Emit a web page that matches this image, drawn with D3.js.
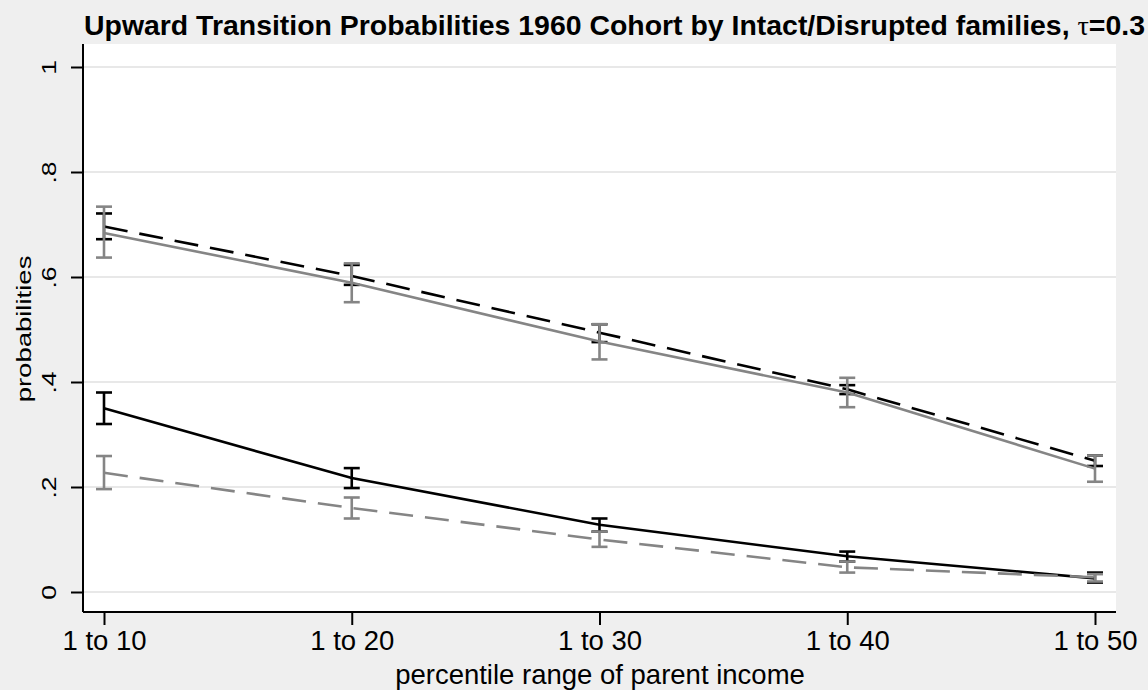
<!DOCTYPE html>
<html>
<head>
<meta charset="utf-8">
<script src="https://cdn.jsdelivr.net/npm/d3@7"></script>
<style>
  html, body { margin: 0; padding: 0; background: #efefef; }
  svg { display: block; }
  text { font-family: "Liberation Sans", Arial, Helvetica, sans-serif; fill: #000; }
</style>
</head>
<body>
<svg id="chart" width="1148" height="690"></svg>
<script>
// Percentile ranges of parent income (x categories)
const categories = ["1 to 10", "1 to 20", "1 to 30", "1 to 40", "1 to 50"];
const yTicks = [0, 0.2, 0.4, 0.6, 0.8, 1];
const yTickLabels = ["0", ".2", ".4", ".6", ".8", "1"];

// Upper series: black dashed and grey solid
const blackDashed = [0.696, 0.602, 0.494, 0.386, 0.250];
const blackDashedLo = [0.672, 0.585, 0.476, 0.377, 0.240];
const blackDashedHi = [0.721, 0.623, 0.510, 0.394, 0.260];

const greySolid = [0.684, 0.589, 0.477, 0.380, 0.235];
const greySolidLo = [0.637, 0.552, 0.443, 0.352, 0.210];
const greySolidHi = [0.734, 0.626, 0.510, 0.408, 0.260];

// Lower series: black solid and grey dashed
const blackSolid = [0.350, 0.217, 0.128, 0.068, 0.026];
const blackSolidLo = [0.320, 0.198, 0.115, 0.058, 0.018];
const blackSolidHi = [0.380, 0.236, 0.140, 0.077, 0.037];

const greyDashed = [0.227, 0.160, 0.100, 0.047, 0.028];
const greyDashedLo = [0.196, 0.140, 0.086, 0.037, 0.020];
const greyDashedHi = [0.259, 0.180, 0.115, 0.058, 0.034];

const GREY = "#858585";

const series = [
  { v: blackDashed, lo: blackDashedLo, hi: blackDashedHi, color: "#000", dash: "24,12" },
  { v: blackSolid, lo: blackSolidLo, hi: blackSolidHi, color: "#000", dash: null },
  { v: greySolid, lo: greySolidLo, hi: greySolidHi, color: GREY, dash: null },
  { v: greyDashed, lo: greyDashedLo, hi: greyDashedHi, color: GREY, dash: "24,12" }
];

const svg = d3.select("#chart");
const plot = { left: 83, right: 1116, top: 44, bottom: 612 };
const FONT = 27.5;

const x = d3.scalePoint().domain(categories).range([104, 1095]);
const y = d3.scaleLinear().domain([0, 1]).range([592, 67]);

// Plot region
svg.append("rect")
  .attr("x", plot.left).attr("y", plot.top)
  .attr("width", plot.right - plot.left).attr("height", plot.bottom - plot.top)
  .attr("fill", "#fff");

// Horizontal grid lines
svg.append("g").selectAll("line").data(yTicks).join("line")
  .attr("x1", plot.left).attr("x2", plot.right)
  .attr("y1", d => y(d)).attr("y2", d => y(d))
  .attr("stroke", "#e8e8e8").attr("stroke-width", 2);

// Y axis
const yAxis = svg.append("g")
  .attr("transform", `translate(${plot.left},0)`)
  .call(d3.axisLeft(y).tickValues(yTicks).tickFormat((d, i) => yTickLabels[i]).tickSize(12).tickPadding(14));
yAxis.select(".domain").remove();
yAxis.append("line")
  .attr("x1", 0).attr("x2", 0).attr("y1", plot.top).attr("y2", plot.bottom)
  .attr("stroke", "#000").attr("stroke-width", 2);
yAxis.selectAll(".tick line").attr("stroke", "#000").attr("stroke-width", 2);
yAxis.selectAll(".tick text")
  .attr("font-size", 26.5)
  .attr("font-family", "Liberation Sans, Arial, sans-serif")
  .attr("fill", "#000")
  .attr("text-anchor", "middle")
  .attr("dy", null)
  .attr("x", null)
  .attr("transform", "translate(-34,0) rotate(-90) scale(1,0.76)")
  .attr("dominant-baseline", "central");

// X axis
const xAxis = svg.append("g")
  .attr("transform", `translate(0,${plot.bottom})`)
  .call(d3.axisBottom(x).tickSize(13).tickPadding(5));
xAxis.select(".domain").remove();
xAxis.append("line")
  .attr("x1", plot.left).attr("x2", plot.right).attr("y1", 0).attr("y2", 0)
  .attr("stroke", "#000").attr("stroke-width", 2);
xAxis.selectAll(".tick line").attr("stroke", "#000").attr("stroke-width", 2);
xAxis.selectAll(".tick text")
  .attr("font-size", FONT)
  .attr("font-family", "Liberation Sans, Arial, sans-serif")
  .attr("fill", "#000");

// Axis titles
svg.append("text")
  .attr("x", 600).attr("y", 684)
  .attr("text-anchor", "middle").attr("font-size", FONT)
  .text("percentile range of parent income");
svg.append("text")
  .attr("transform", "translate(24,329) rotate(-90) scale(1,0.74)")
  .attr("text-anchor", "middle").attr("font-size", FONT)
  .attr("dominant-baseline", "central")
  .text("probabilities");

// Title
const title = svg.append("text")
  .attr("x", 84).attr("y", 35)
  .attr("text-anchor", "start").attr("font-size", 27).attr("font-weight", "bold")
  .attr("textLength", 1061).attr("lengthAdjust", "spacingAndGlyphs");
title.append("tspan").text("Upward Transition Probabilities 1960 Cohort by Intact/Disrupted families, ");
title.append("tspan").attr("font-family", "Liberation Serif, serif").attr("font-weight", "normal").text("τ");
title.append("tspan").text("=0.3");

// Series: connecting line, then confidence bars
const line = d3.line().x((d, i) => x(categories[i])).y(d => y(d));
const capHalf = 8;

series.forEach(s => {
  const g = svg.append("g");
  g.append("path")
    .attr("d", line(s.v))
    .attr("fill", "none")
    .attr("stroke", s.color)
    .attr("stroke-width", 2.6)
    .attr("stroke-dasharray", s.dash);
  const bars = g.selectAll("g.bar").data(categories).join("g").attr("class", "bar");
  bars.append("line")
    .attr("x1", d => x(d)).attr("x2", d => x(d))
    .attr("y1", (d, i) => y(s.lo[i])).attr("y2", (d, i) => y(s.hi[i]))
    .attr("stroke", s.color).attr("stroke-width", 2.6);
  bars.append("line")
    .attr("x1", d => x(d) - capHalf).attr("x2", d => x(d) + capHalf)
    .attr("y1", (d, i) => y(s.lo[i])).attr("y2", (d, i) => y(s.lo[i]))
    .attr("stroke", s.color).attr("stroke-width", 2.6);
  bars.append("line")
    .attr("x1", d => x(d) - capHalf).attr("x2", d => x(d) + capHalf)
    .attr("y1", (d, i) => y(s.hi[i])).attr("y2", (d, i) => y(s.hi[i]))
    .attr("stroke", s.color).attr("stroke-width", 2.6);
});
</script>
</body>
</html>
